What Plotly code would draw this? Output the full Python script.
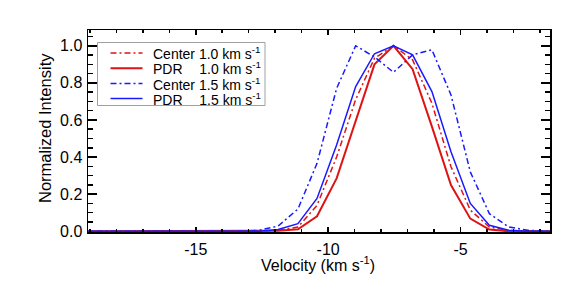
import plotly.graph_objects as go

# ---------------- data ----------------
velocity = [-19.8, -13.35, -12.62, -11.89, -11.14, -10.42, -9.68, -8.96, -8.25,
            -7.53, -6.81, -6.08, -5.36, -4.63, -3.91, -3.18, -2.45, -1.72, -0.5]

center_10 = [0.0, 0.0, 0.0, 0.005, 0.023, 0.14, 0.40, 0.71, 0.933,
             1.0, 0.924, 0.69, 0.348, 0.114, 0.023, 0.004, 0.0, 0.0, 0.0]
pdr_10 = [0.0, 0.0, 0.0, 0.003, 0.011, 0.081, 0.285, 0.60, 0.90,
          1.0, 0.874, 0.564, 0.249, 0.068, 0.009, 0.0, 0.0, 0.0, 0.0]
center_15 = [0.0, 0.0, 0.005, 0.028, 0.12, 0.366, 0.77, 1.0, 0.94,
             0.857, 0.951, 0.978, 0.735, 0.32, 0.095, 0.023, 0.005, 0.0, 0.0]
pdr_15 = [0.0, 0.0, 0.0, 0.01, 0.041, 0.177, 0.465, 0.78, 0.957,
          1.0, 0.951, 0.753, 0.429, 0.15, 0.032, 0.005, 0.0, 0.0, 0.0]

x_tickvals = [-15, -10, -5]
x_ticktext = ["-15", "-10", "-5"]
x_title = "Velocity (km s<sup>-1</sup>)"
y_title = "Normalized Intensity"

legend_labels = ["Center 1.0 km s<sup>-1</sup>",
                 "PDR\u00a0\u00a0\u00a0\u00a0\u200a1.0 km s<sup>-1</sup>",
                 "Center 1.5 km s<sup>-1</sup>",
                 "PDR\u00a0\u00a0\u00a0\u00a0\u200a1.5 km s<sup>-1</sup>"]

# ---------------- styles ----------------
RED = "#dd1414"
BLUE = "#1a1aff"
DASHDOT = "6px,3px,2px,3px"
FONT = "Liberation Sans, Arial, Helvetica, sans-serif"

series = [
    (center_10, RED, DASHDOT, 1.5),
    (pdr_10, RED, "solid", 2.0),
    (center_15, BLUE, DASHDOT, 1.5),
    (pdr_15, BLUE, "solid", 1.5),
]

W, H = 576, 288
ML, MR, MT, MB = 88, 26, 30, 56
PW, PH = W - ML - MR, H - MT - MB


def px_x(x):
    return (x - ML) / PW


def px_y(y):
    return (H - MB - y) / PH


fig = go.Figure()
for (vals, col, dash, lw), name in zip(series, legend_labels):
    fig.add_trace(go.Scatter(x=velocity, y=vals, mode="lines", name=name,
                             line=dict(color=col, dash=dash, width=lw),
                             showlegend=False, hoverinfo="skip"))

# manual legend (box, sample lines, labels)
shapes = [dict(type="rect", xref="paper", yref="paper",
               x0=px_x(97.5), x1=px_x(265), y0=px_y(105.5), y1=px_y(42.5),
               line=dict(color="#a0a0a0", width=1), fillcolor="white", layer="below")]
annotations = []
row_y = [53.0, 68.3, 83.6, 98.6]
for (vals, col, dash, lw), name, ry in zip(series, legend_labels, row_y):
    shapes.append(dict(type="line", xref="paper", yref="paper",
                       x0=px_x(110.5), x1=px_x(142.5), y0=px_y(ry), y1=px_y(ry),
                       line=dict(color=col, dash=dash, width=lw)))
    annotations.append(dict(xref="paper", yref="paper", x=px_x(151), y=px_y(ry),
                            text=name, showarrow=False, xanchor="left", yanchor="middle",
                            font=dict(family=FONT, size=14, color="black")))

# axis titles
annotations.append(dict(xref="paper", yref="paper", x=px_x(318), y=px_y(264),
                        text=x_title, showarrow=False, xanchor="center", yanchor="middle",
                        font=dict(family=FONT, size=16, color="black")))
annotations.append(dict(xref="paper", yref="paper", x=px_x(45), y=px_y(128),
                        text=y_title, showarrow=False, xanchor="center", yanchor="middle",
                        textangle=-90, font=dict(family=FONT, size=16.5, color="black")))

fig.update_layout(
    width=W, height=H,
    margin=dict(l=ML, r=MR, t=MT, b=MB, pad=0, autoexpand=False),
    paper_bgcolor="white", plot_bgcolor="white",
    font=dict(family=FONT, size=16, color="black"),
    shapes=shapes, annotations=annotations,
    showlegend=False,
)

fig.update_xaxes(
    range=[-19.07, -1.62], automargin=False,
    tickmode="array", tickvals=x_tickvals, ticktext=x_ticktext,
    ticks="inside", ticklen=5, tickwidth=1.5, tickcolor="black",
    minor=dict(tickmode="linear", tick0=0, dtick=1, ticks="inside", ticklen=3,
               tickwidth=1.5, tickcolor="black"),
    showline=True, linecolor="black", linewidth=1.5, mirror="allticks",
    showgrid=False, zeroline=False,
    tickfont=dict(family=FONT, size=16),
    ticklabelstandoff=2,
)
fig.update_yaxes(
    range=[-0.004, 1.085], automargin=False,
    tickmode="linear", tick0=0, dtick=0.2, tickformat=".1f",
    ticks="inside", ticklen=9, tickwidth=1.5, tickcolor="black",
    minor=dict(tickmode="linear", tick0=0, dtick=0.05, ticks="inside", ticklen=5,
               tickwidth=1.5, tickcolor="black"),
    showline=True, linecolor="black", linewidth=1.5, mirror="allticks",
    showgrid=False, zeroline=False,
    tickfont=dict(family=FONT, size=16),
    ticklabelstandoff=1,
)

fig.write_html("out.html", config={"displayModeBar": False, "staticPlot": True},
               post_script="document.body.style.margin='0';document.body.style.padding='0';")
